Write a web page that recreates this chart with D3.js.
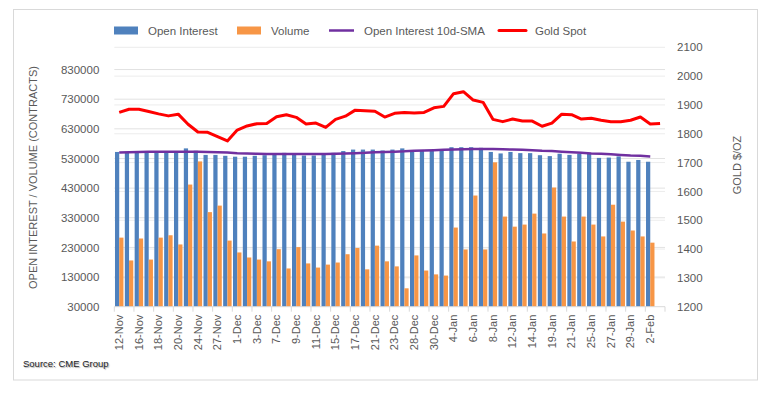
<!DOCTYPE html>
<html>
<head>
<meta charset="utf-8">
<script src="https://cdn.jsdelivr.net/npm/d3@7"></script>
<style>
  body { margin: 0; background: #fff; }
  svg { display: block; font-family: "Liberation Sans", Arial, sans-serif; }
</style>
</head>
<body>
<svg></svg>
<script>
const dates = ["12-Nov","13-Nov","16-Nov","17-Nov","18-Nov","19-Nov","20-Nov","23-Nov","24-Nov","25-Nov","27-Nov","30-Nov",
  "1-Dec","2-Dec","3-Dec","4-Dec","7-Dec","8-Dec","9-Dec","10-Dec","11-Dec","14-Dec","15-Dec","16-Dec","17-Dec","18-Dec",
  "21-Dec","22-Dec","23-Dec","24-Dec","28-Dec","29-Dec","30-Dec","31-Dec",
  "4-Jan","5-Jan","6-Jan","7-Jan","8-Jan","11-Jan","12-Jan","13-Jan","14-Jan","15-Jan","19-Jan","20-Jan","21-Jan","22-Jan",
  "25-Jan","26-Jan","27-Jan","28-Jan","29-Jan","1-Feb","2-Feb","3-Feb"];

const openInterest = [552000,549000,552000,552000,552000,552000,551000,564000,556000,542000,542000,539000,
  536000,536000,539000,541000,545000,549000,542000,540000,540000,546000,549000,555000,560000,560000,
  560000,557000,560000,564000,556000,556000,556000,556000,
  568000,568000,568000,566000,552000,547000,552000,548000,548000,541000,538000,546000,542000,546000,
  546000,532000,533000,537000,519000,525000,519000];

const volume = [263000,186000,260000,189000,263000,271000,240000,442000,520000,349000,371000,253000,
  213000,196000,189000,183000,224000,159000,231000,176000,162000,172000,179000,207000,228000,156000,
  236000,183000,166000,92000,203000,152000,139000,135000,
  297000,223000,405000,223000,517000,334000,300000,307000,344000,277000,432000,334000,250000,334000,
  307000,267000,374000,317000,287000,267000,246000];

const oiSma = [550000,551000,552000,552500,553000,553000,553000,553000,553000,552000,551000,550000,
  548000,547000,546000,545000,545000,545000,545000,545000,545000,545000,546000,547000,548000,549000,
  551000,552000,553000,554000,556000,557000,558000,559000,
  560000,561000,562000,562000,562000,561000,560000,559000,558000,556000,555000,553000,551000,549000,
  547000,546000,544000,542000,540000,539000,537000];

const goldSpot = [1874,1885,1885,1877,1869,1862,1868,1833,1806,1805,1790,1775,
  1813,1827,1835,1836,1859,1866,1857,1834,1837,1822,1850,1861,1882,1880,
  1878,1858,1871,1874,1872,1874,1890,1895,
  1939,1946,1917,1909,1850,1842,1851,1844,1844,1826,1837,1868,1866,1851,
  1854,1847,1842,1842,1847,1858,1834,1836];

const leftTicks = [30000,130000,230000,330000,430000,530000,630000,730000,830000];
const rightTicks = [1200,1300,1400,1500,1600,1700,1800,1900,2000,2100];

const width = 772, height = 394;
const margin = { top: 47.3, right: 107, bottom: 87.3, left: 114.3 };
const plotBottom = height - margin.bottom;
const plotRight = width - margin.right;

const svg = d3.select("svg").attr("width", width).attr("height", height);

// chart frame
svg.append("rect")
  .attr("x", 13.5).attr("y", 9.5).attr("width", 744).attr("height", 370.5)
  .attr("fill", "#fff").attr("stroke", "#d9d9d9");

const x = d3.scaleBand().domain(dates).range([margin.left, plotRight]);
const x1 = d3.scaleBand().domain(["oi", "vol"])
  .range([x.bandwidth() * 0.07, x.bandwidth() * 0.93]);

const yL = d3.scaleLinear().domain([30000, 905000]).range([plotBottom, margin.top]);
const yR = d3.scaleLinear().domain([1200, 2100]).range([plotBottom, margin.top]);

// gridlines
svg.append("g").selectAll("line")
  .data(rightTicks.slice(1))
  .enter().append("line")
  .attr("x1", margin.left).attr("x2", plotRight)
  .attr("y1", d => yR(d)).attr("y2", d => yR(d))
  .attr("stroke", "#ececec");
svg.append("g").selectAll("line")
  .data(leftTicks.slice(1))
  .enter().append("line")
  .attr("x1", margin.left).attr("x2", plotRight)
  .attr("y1", d => yL(d)).attr("y2", d => yL(d))
  .attr("stroke", "#e2e2e2");

// bars
const bars = svg.append("g");
bars.selectAll(".oi")
  .data(openInterest)
  .enter().append("rect")
  .attr("class", "oi")
  .attr("x", (d, i) => x(dates[i]) + x1("oi"))
  .attr("y", d => yL(d))
  .attr("width", x1.bandwidth())
  .attr("height", d => plotBottom - yL(d))
  .attr("fill", "#4f81bd");
bars.selectAll(".vol")
  .data(volume)
  .enter().append("rect")
  .attr("class", "vol")
  .attr("x", (d, i) => x(dates[i]) + x1("vol"))
  .attr("y", d => yL(d))
  .attr("width", x1.bandwidth())
  .attr("height", d => plotBottom - yL(d))
  .attr("fill", "#f79646");

// x axis
svg.append("line")
  .attr("x1", margin.left).attr("x2", plotRight)
  .attr("y1", plotBottom).attr("y2", plotBottom)
  .attr("stroke", "#d9d9d9");
const tickDates = dates.filter((d, i) => i % 2 === 0);
svg.append("g").selectAll("line")
  .data(tickDates)
  .enter().append("line")
  .attr("x1", d => x(d)).attr("x2", d => x(d))
  .attr("y1", plotBottom).attr("y2", plotBottom + 5)
  .attr("stroke", "#d9d9d9");
svg.append("line")
  .attr("x1", plotRight).attr("x2", plotRight)
  .attr("y1", plotBottom).attr("y2", plotBottom + 5)
  .attr("stroke", "#d9d9d9");

const xAxis = svg.append("g")
  .attr("transform", `translate(0,${plotBottom})`)
  .call(d3.axisBottom(x).tickValues(tickDates).tickSize(0));
xAxis.select(".domain").remove();
xAxis.selectAll("text")
  .attr("transform", "rotate(-90)")
  .attr("x", -8).attr("y", 0).attr("dy", "0.35em")
  .style("text-anchor", "end")
  .attr("fill", "#595959")
  .style("font-size", "11px");

// y axes
const leftAxis = svg.append("g")
  .attr("transform", `translate(${margin.left - 12},0)`)
  .call(d3.axisLeft(yL).tickValues(leftTicks).tickSize(0).tickFormat(d3.format("d")));
leftAxis.select(".domain").remove();
leftAxis.selectAll("text").attr("fill", "#595959").style("font-size", "11.5px");

const rightAxis = svg.append("g")
  .attr("transform", `translate(${plotRight + 9},0)`)
  .call(d3.axisRight(yR).tickValues(rightTicks).tickSize(0).tickFormat(d3.format("d")));
rightAxis.select(".domain").remove();
rightAxis.selectAll("text").attr("fill", "#595959").style("font-size", "11.5px");

// lines
svg.append("path")
  .datum(oiSma)
  .attr("fill", "none")
  .attr("stroke", "#7030a0")
  .attr("stroke-width", 2.5)
  .attr("d", d3.line().x((d, i) => x(dates[i]) + x.bandwidth() / 2).y(d => yL(d)));

svg.append("path")
  .datum(goldSpot)
  .attr("fill", "none")
  .attr("stroke", "#ff0000")
  .attr("stroke-width", 3)
  .attr("stroke-linejoin", "round")
  .attr("d", d3.line().x((d, i) => x(dates[i]) + x.bandwidth() / 2).y(d => yR(d)));

// axis titles
svg.append("text")
  .attr("transform", "translate(37,177.5) rotate(-90)")
  .attr("text-anchor", "middle")
  .attr("fill", "#595959")
  .style("font-size", "11px")
  .text("OPEN INTEREST / VOLUME (CONTRACTS)");

svg.append("text")
  .attr("transform", "translate(741,165) rotate(-90)")
  .attr("text-anchor", "middle")
  .attr("fill", "#595959")
  .style("font-size", "11px")
  .text("GOLD $/OZ");

// legend
const legend = svg.append("g").attr("fill", "#595959").style("font-size", "11.5px");
legend.append("rect").attr("x", 114).attr("y", 26.5).attr("width", 24).attr("height", 8).attr("fill", "#4f81bd");
legend.append("text").attr("x", 148).attr("y", 34.5).text("Open Interest");
legend.append("rect").attr("x", 237).attr("y", 26.5).attr("width", 24).attr("height", 8).attr("fill", "#f79646");
legend.append("text").attr("x", 271).attr("y", 34.5).text("Volume");
legend.append("line").attr("x1", 329).attr("x2", 354).attr("y1", 30.5).attr("y2", 30.5)
  .attr("stroke", "#7030a0").attr("stroke-width", 2.5);
legend.append("text").attr("x", 364).attr("y", 34.5).text("Open Interest 10d-SMA");
legend.append("line").attr("x1", 499).attr("x2", 526).attr("y1", 30.5).attr("y2", 30.5)
  .attr("stroke", "#ff0000").attr("stroke-width", 3).attr("stroke-linecap", "round");
legend.append("text").attr("x", 535).attr("y", 34.5).text("Gold Spot");

// source note
svg.append("text")
  .attr("x", 23).attr("y", 367)
  .attr("fill", "#222")
  .style("font-size", "9.5px")
  .style("text-shadow", "1px 1px 1px #aaa")
  .text("Source: CME Group");
</script>
</body>
</html>
